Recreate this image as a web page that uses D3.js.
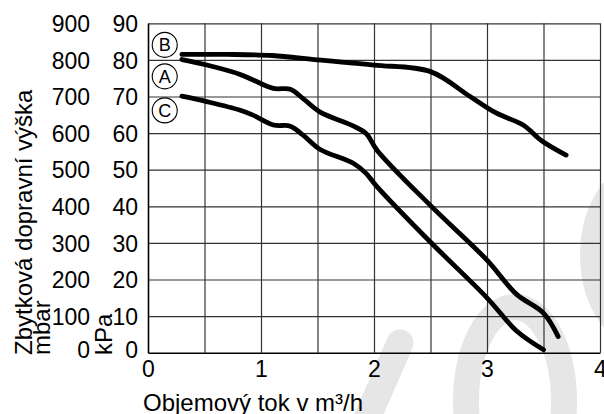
<!DOCTYPE html>
<html>
<head>
<meta charset="utf-8">
<script src="https://cdn.jsdelivr.net/npm/d3@7"></script>
<style>
  html, body { margin: 0; padding: 0; background: #fff; }
  svg { display: block; }
  text { font-family: "Liberation Sans", Arial, sans-serif; fill: #000; }
</style>
</head>
<body>
<svg id="chart" width="604" height="414"></svg>
<script>
// Pump curves: residual head (kPa) over volume flow (m³/h)
const seriesNames = ["A", "B", "C"];
const flowA = [0.30, 0.52, 0.81, 0.93, 1.11, 1.26, 1.37, 1.52, 1.82, 1.93, 2.03, 2.51, 3.00, 3.26, 3.50, 3.63];
const headA = [80.1, 78.6, 76.1, 74.5, 72.2, 72.0, 69.5, 65.8, 61.9, 59.9, 55.2, 39.9, 25.3, 16.0, 10.8, 4.4];
const flowB = [0.30, 0.70, 1.10, 1.50, 2.00, 2.50, 2.85, 3.08, 3.32, 3.48, 3.70];
const headB = [81.5, 81.5, 81.2, 80.0, 78.6, 76.8, 70.0, 65.5, 62.2, 58.0, 54.0];
const flowC = [0.30, 0.52, 0.81, 0.93, 1.11, 1.26, 1.37, 1.52, 1.82, 1.93, 2.02, 2.51, 3.00, 3.26, 3.50];
const headC = [70.1, 68.6, 66.3, 64.9, 62.2, 61.9, 59.5, 55.6, 51.7, 49.0, 45.6, 29.9, 15.0, 6.0, 0.8];

const kPaTicks = [0, 10, 20, 30, 40, 50, 60, 70, 80, 90];
const mbarTicks = [0, 100, 200, 300, 400, 500, 600, 700, 800, 900];
const flowTicks = [0, 1, 2, 3, 4];
const flowGrid = [0.5, 1, 1.5, 2, 2.5, 3, 3.5, 4];

const yTitle = "Zbytková dopravní výška";
const mbarTitle = "mbar";
const kPaTitle = "kPa";
const xTitle = "Objemový tok v m³/h";

const svg = d3.select("#chart");
const W = 604, H = 414;
const m = { left: 148, right: 4, top: 23.3, bottom: 61.3 };
const plotW = W - m.left - m.right;
const plotH = H - m.top - m.bottom;

const x = d3.scaleLinear().domain([0, 4]).range([m.left, m.left + plotW]);
const y = d3.scaleLinear().domain([0, 90]).range([m.top + plotH, m.top]);
const yMbar = d3.scaleLinear().domain([0, 900]).range([m.top + plotH, m.top]);

// light grey background watermark
const wm = svg.append("g").attr("fill", "none").attr("stroke", "#e6e6e6");
wm.append("line").attr("x1", 362).attr("y1", 430).attr("x2", 400).attr("y2", 343)
  .attr("stroke-width", 27).attr("stroke-linecap", "round");
wm.append("ellipse").attr("cx", 515).attr("cy", 402).attr("rx", 49).attr("ry", 95).attr("stroke-width", 26);
wm.append("ellipse").attr("cx", 656).attr("cy", 255).attr("rx", 64).attr("ry", 88).attr("stroke-width", 24);

// grid: horizontal lines from the kPa axis, vertical lines every 0.5 m³/h
const gridColor = "#333";
svg.append("g")
  .attr("transform", `translate(${m.left},0)`)
  .call(d3.axisLeft(y).tickValues(kPaTicks.slice(1)).tickSize(-plotW).tickFormat(""))
  .call(g => g.select(".domain").remove())
  .call(g => g.selectAll(".tick line").attr("stroke", gridColor).attr("stroke-width", 1.2));

svg.append("g")
  .attr("transform", `translate(0,${m.top + plotH})`)
  .call(d3.axisBottom(x).tickValues(flowGrid).tickSize(-plotH).tickFormat(""))
  .call(g => g.select(".domain").remove())
  .call(g => g.selectAll(".tick line").attr("stroke", gridColor).attr("stroke-width", 1.2));

// x axis with labels
svg.append("g")
  .attr("transform", `translate(0,${m.top + plotH})`)
  .call(d3.axisBottom(x).tickValues(flowTicks).tickSize(0).tickPadding(8).tickFormat(d3.format("d")))
  .call(g => g.select(".domain").attr("stroke", "#000").attr("stroke-width", 1.6))
  .call(g => g.selectAll(".tick text").attr("font-size", 23).attr("font-family", "Liberation Sans, Arial, sans-serif").attr("fill", "#000"));

// kPa axis
svg.append("g")
  .attr("transform", `translate(${m.left},0)`)
  .call(d3.axisLeft(y).tickValues(kPaTicks).tickSize(0).tickPadding(10))
  .call(g => g.select(".domain").attr("stroke", "#000").attr("stroke-width", 1.6))
  .call(g => g.selectAll(".tick text").attr("font-size", 23).attr("font-family", "Liberation Sans, Arial, sans-serif").attr("fill", "#000")
    .attr("dy", d => d === 0 ? "0.2em" : "0.36em"));

// mbar axis
svg.append("g")
  .attr("transform", `translate(${m.left - 48},0)`)
  .call(d3.axisLeft(yMbar).tickValues(mbarTicks).tickSize(0).tickPadding(10))
  .call(g => g.select(".domain").remove())
  .call(g => g.selectAll(".tick text").attr("font-size", 23).attr("font-family", "Liberation Sans, Arial, sans-serif").attr("fill", "#000")
    .attr("dy", d => d === 0 ? "0.2em" : "0.36em"));

// axis titles
svg.append("text").attr("transform", "translate(32,355) rotate(-90)").attr("font-size", 24).text(yTitle);
svg.append("text").attr("transform", "translate(50,355) rotate(-90)").attr("font-size", 24).text(mbarTitle);
svg.append("text").attr("transform", "translate(112,355) rotate(-90)").attr("font-size", 24).text(kPaTitle);
svg.append("text").attr("x", 143).attr("y", 411).attr("font-size", 24).text(xTitle);

// curves
const curves = [
  { name: "A", flow: flowA, head: headA },
  { name: "B", flow: flowB, head: headB },
  { name: "C", flow: flowC, head: headC }
];
const line = d3.line()
  .x(d => x(d[0]))
  .y(d => y(d[1]))
  .curve(d3.curveCatmullRom.alpha(0.5));

svg.append("g")
  .selectAll("path")
  .data(curves)
  .join("path")
  .attr("d", c => line(c.flow.map((f, i) => [f, c.head[i]])))
  .attr("fill", "none")
  .attr("stroke", "#000")
  .attr("stroke-width", 4.8)
  .attr("stroke-linecap", "round")
  .attr("stroke-linejoin", "round");

// circled curve markers
const markerFlow = 0.148;
const markerHead = { B: 84.1, A: 75.5, C: 66.2 };
const mk = svg.append("g")
  .selectAll("g")
  .data(seriesNames)
  .join("g")
  .attr("transform", d => `translate(${x(markerFlow)},${y(markerHead[d])})`);
mk.append("circle").attr("r", 12.5).attr("fill", "#fff").attr("stroke", "#000").attr("stroke-width", 1.1);
mk.append("text").attr("text-anchor", "middle").attr("dy", "0.36em").attr("font-size", 18).text(d => d);
</script>
</body>
</html>
